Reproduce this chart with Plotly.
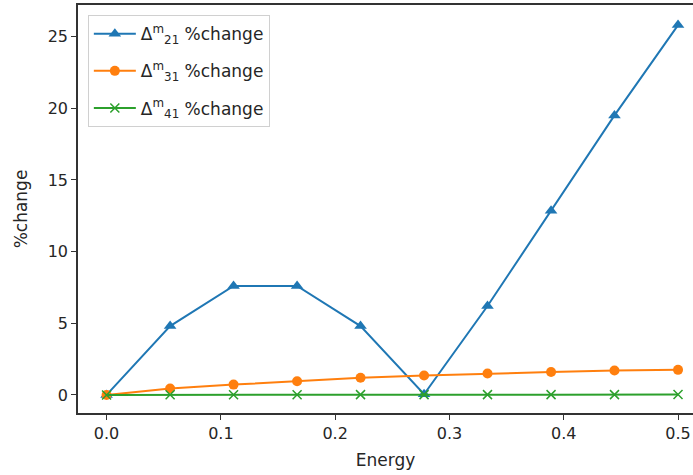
import plotly.graph_objects as go

energy = [0.0, 0.0556, 0.1111, 0.1667, 0.2222, 0.2778, 0.3333, 0.3889, 0.4444, 0.5]
d21 = [0.0, 4.8, 7.6, 7.6, 4.8, 0.05, 6.2, 12.85, 19.5, 25.8]
d31 = [0.0, 0.45, 0.72, 0.95, 1.2, 1.35, 1.5, 1.6, 1.7, 1.75]
d41 = [0.0, 0.01, 0.01, 0.01, 0.02, 0.02, 0.02, 0.02, 0.02, 0.03]

names = ["Δ<sup>m</sup><sub>21</sub> %change",
         "Δ<sup>m</sup><sub>31</sub> %change",
         "Δ<sup>m</sup><sub>41</sub> %change"]
colors = ["#1f77b4", "#ff7f0e", "#2ca02c"]

fig = go.Figure()
fig.add_trace(go.Scatter(x=energy, y=d21, name=names[0], mode="lines+markers",
                         legendgroup="a",
                         line=dict(color=colors[0], width=2),
                         marker=dict(symbol="triangle-up", size=11, color=colors[0])))
fig.add_trace(go.Scatter(x=energy, y=d31, name=names[1], mode="lines+markers",
                         legendgroup="b",
                         line=dict(color=colors[1], width=2),
                         marker=dict(symbol="circle", size=10, color=colors[1])))
fig.add_trace(go.Scatter(x=energy, y=d41, name=names[2], mode="lines+markers",
                         legendgroup="c",
                         line=dict(color=colors[2], width=2),
                         marker=dict(symbol="x-thin", size=9, color=colors[2],
                                     line=dict(color=colors[2], width=1.5))))

font = "DejaVu Sans, sans-serif"
fig.update_layout(
    width=693, height=475,
    margin=dict(l=78, r=0, t=5, b=62),
    paper_bgcolor="white", plot_bgcolor="white",
    font=dict(family=font, size=16, color="#262626"),
    showlegend=True,
    legend=dict(x=0.016, y=0.975, xanchor="left", yanchor="top",
                bgcolor="white", bordercolor="#d0d0d0", borderwidth=1,
                font=dict(size=17, family=font, color="#262626"),
                itemwidth=42, tracegroupgap=12),
    xaxis=dict(range=[-0.025, 0.5131], tickvals=[0, 0.1, 0.2, 0.3, 0.4, 0.5],
               ticktext=["0.0", "0.1", "0.2", "0.3", "0.4", "0.5"],
               showgrid=False, zeroline=False, showline=True, linecolor="#333333",
               linewidth=1.5, mirror=True, ticks="outside", ticklen=5,
               tickcolor="#333333",
               title=dict(text="Energy", standoff=12, font=dict(size=17))),
    yaxis=dict(range=[-1.26, 27.2], tickvals=[0, 5, 10, 15, 20, 25],
               showgrid=False, zeroline=False, showline=True, linecolor="#333333",
               linewidth=1.5, ticks="outside", ticklen=5, tickcolor="#333333",
               title=dict(text="%change", standoff=16, font=dict(size=17))),
)

fig.write_html("out.html", config={"displayModeBar": False},
               post_script="document.body.style.margin='0px';")
